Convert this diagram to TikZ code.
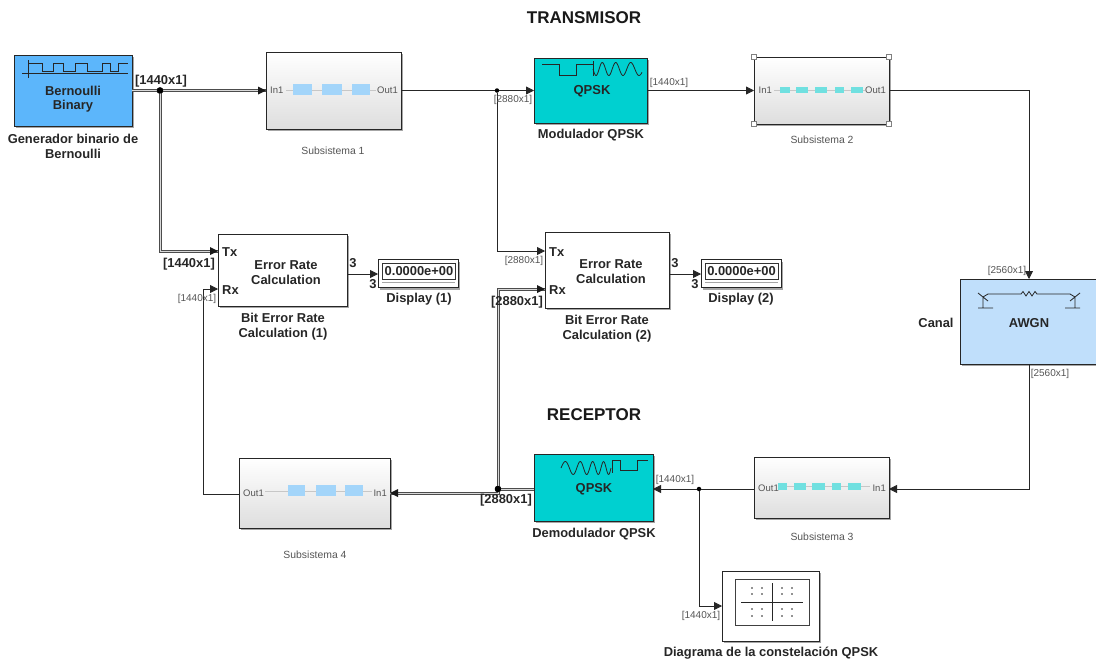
\documentclass[tikz,border=0pt]{standalone}
\usepackage{fontspec}
\setmainfont{Liberation Sans}
\usetikzlibrary{arrows.meta,shadows}
\definecolor{bernblue}{HTML}{5CB6FB}
\definecolor{modteal}{HTML}{00D0D0}
\definecolor{awgnblue}{HTML}{C0DFFB}
\definecolor{minblue}{HTML}{A3D5FA}
\definecolor{minteal}{HTML}{70E0E0}
\definecolor{txtgray}{HTML}{555555}
\tikzset{
  blk/.style={draw=black!85,line width=1pt,inner sep=0pt,outer sep=0pt,
     general shadow={shadow xshift=2pt,shadow yshift=-2pt,fill=black!35}},
  subsys/.style={blk,top color=white,middle color=white!97!black,bottom color=black!13},
  wire/.style={draw=black!85,line width=.8pt,-{Triangle[length=8pt,width=8pt]}},
  plainwire/.style={draw=black!85,line width=.8pt},
  bus/.style={draw=white!85!black,line width=.9pt,preaction={draw=black!70,line width=3pt}},
  junction/.style={circle,fill=black,inner sep=0pt,minimum size=6.5pt},
  smalljunction/.style={circle,fill=black,inner sep=0pt,minimum size=4.5pt},
  title/.style={font=\fontsize{17}{19}\bfseries\selectfont,text=black!90,yshift=-1pt},
  blabel/.style={font=\fontsize{12.9}{15}\bfseries\selectfont,text=black!85,align=center,yshift=-1pt},
  blktext/.style={font=\fontsize{12.9}{14.5}\bfseries\selectfont,text=black!85,align=center,yshift=-.7pt},
  sublabel/.style={font=\fontsize{10.4}{12}\selectfont,text=txtgray,yshift=-.7pt},
  dim/.style={font=\fontsize{10}{11}\selectfont,text=txtgray,inner sep=0pt,yshift=-1pt},
  bdim/.style={font=\fontsize{12.9}{14}\bfseries\selectfont,text=black!85,inner sep=0pt,yshift=-.7pt},
  port/.style={font=\fontsize{9.5}{11}\selectfont,text=txtgray,inner sep=0pt},
  bport/.style={font=\fontsize{12.9}{14}\bfseries\selectfont,text=black!85,inner sep=0pt},
  innerline/.style={draw=black!22,line width=.8pt},
  minb/.style={fill=minblue,draw=none},
  mint/.style={fill=minteal,draw=none},
  icon/.style={draw=black!85,line width=.8pt},
  handle/.style={draw=black!50,fill=white,line width=.6pt,minimum size=5pt,inner sep=0pt},
}
\begin{document}
\begin{tikzpicture}[x=1pt,y=-1pt]
\clip (0,0) rectangle (1096,659);
\fill[white] (0,0) rectangle (1096,659);

% blocks
\node[blk,fill=bernblue,minimum width=118pt,minimum height=71pt] (bern) at (73,90.5) {};
\node[subsys,minimum width=135pt,minimum height=77pt] (sub1) at (333.5,90.5) {};
\node[blk,fill=modteal,minimum width=113pt,minimum height=65pt] (mod) at (590.5,90.5) {};
\node[subsys,minimum width=135pt,minimum height=67pt] (sub2) at (821.5,90.5) {};
\node[blk,fill=white,minimum width=129pt,minimum height=72pt] (er1) at (282.5,270) {};
\node[blk,fill=white,minimum width=124pt,minimum height=76pt] (er2) at (607,270) {};
\node[blk,fill=white,minimum width=80pt,minimum height=28pt] (disp1) at (418,273.5) {};
\node[blk,fill=white,minimum width=80pt,minimum height=28pt] (disp2) at (741,273.5) {};
\node[blk,fill=awgnblue,minimum width=138pt,minimum height=85pt] (awgn) at (1029,321.5) {};
\node[subsys,minimum width=151pt,minimum height=70pt] (sub4) at (314.5,493) {};
\node[blk,fill=modteal,minimum width=119pt,minimum height=67pt] (dem) at (593.5,487.5) {};
\node[subsys,minimum width=135pt,minimum height=61pt] (sub3) at (821.5,487.5) {};
\node[blk,fill=white,minimum width=97pt,minimum height=70pt] (const) at (770.5,606) {};

% ports and junctions
\coordinate (ertx1) at (218,251);
\coordinate (errx1) at (218,289);
\coordinate (ertx2) at (545,251);
\coordinate (errx2) at (545,289);
\coordinate (s3in) at (889,489);
\coordinate (s3out) at (754,489);
\coordinate (demin) at (653,489);
\coordinate (demout) at (534,489);
\coordinate (s4in) at (390,493);
\coordinate (s4out) at (239,494);
\coordinate (cin) at (722,606);
\coordinate (d1in) at (378,274);
\coordinate (d2in) at (701,274);
\coordinate (er1out) at (347,274);
\coordinate (er2out) at (669,274);
\coordinate (rxcorner) at (203,289);
\node[junction] (j1) at (160,90.5) {};
\node[smalljunction] (j2) at (497,90.5) {};
\node[junction] (j3) at (498,489) {};
\node[smalljunction] (j4) at (699,489) {};

% connectors
\draw[bus] (bern.east) -- (j1.center);
\draw[bus] (j1.center) -- (sub1.west);
\draw[bus] (j1.center) |- (ertx1);
\draw[plainwire] (sub1.east) -- (j2);
\draw[wire] (j2) -- (mod.west);
\draw[wire] (j2) |- (ertx2);
\draw[wire] (mod.east) -- (sub2.west);
\draw[wire] (sub2.east) -| (awgn.north);
\draw[wire] (awgn.south) |- (s3in);
\draw[plainwire] (s3out) -- (j4);
\draw[wire] (j4) -- (demin);
\draw[wire] (j4) |- (cin);
\draw[bus] (demout) -- (j3.center);
\draw[bus] (j3.center) |- (s4in);
\draw[bus] (j3.center) |- (errx2);
\draw[wire] (s4out) -| (rxcorner) -- (errx1);
\draw[wire] (er1out) -- (d1in);
\draw[wire] (er2out) -- (d2in);
% arrowheads over the double lines
\fill[black!90] (sub1.west) -- ++(-8,-4) -- ++(0,8) -- cycle;
\fill[black!90] (ertx1) -- ++(-8,-4) -- ++(0,8) -- cycle;
\fill[black!90] (errx2) -- ++(-8,-4) -- ++(0,8) -- cycle;
\fill[black!90] (s4in) -- ++(8,-4) -- ++(0,8) -- cycle;
\fill[black] (j1.center) circle (3.2);
\fill[black] (j3.center) circle (3.2);

% Bernoulli icon
\draw[icon] (22,73.5) -- (128,73.5);
\draw[icon] (28,60) -- (28,78);
\draw[icon] (28,63) -- (42,63) -- (42,71) -- (53,71) -- (53,63) -- (63,63) -- (63,71) -- (75,71) -- (75,63) -- (87,63) -- (87,71) -- (102,71) -- (102,63) -- (110,63) -- (110,71) -- (118,71) -- (118,63) -- (128,63);
\node[blktext] (bernt) at (73,98.5) {Bernoulli\\Binary};

% QPSK modulator icon
\draw[icon] (542,64) -- (559,64) -- (559,75) -- (576,75) -- (576,64) -- (593,64);
\draw[icon] (593,61) -- (593,76);
\draw[icon,smooth] plot[domain=0:49,samples=90] ({593+\x},{69+6.5*sin(\x*30-\x*\x*0.1)});
\node[blktext,font=\fontsize{13}{15}\bfseries\selectfont] (modt) at (592,91) {QPSK};

% QPSK demodulator icon
\draw[icon,smooth] plot[domain=0:50,samples=90] ({561+\x},{468-6.5*sin(\x*20+\x*\x*0.176)});
\draw[icon] (612,460) -- (612,473);
\draw[icon] (612,460) -- (620,460) -- (620,470) -- (637,470) -- (637,460) -- (648,460);
\node[blktext] (demt) at (594,489) {QPSK};

% subsystem 1 interior
\draw[innerline] (286,90) -- (376,90);
\fill[minb] (293,84) rectangle (312,95);
\fill[minb] (322,84) rectangle (342,95);
\fill[minb] (352,84) rectangle (370,95);
\node[port,anchor=west] (s1i) at (270,90.5) {In1};
\node[port,anchor=east] (s1o) at (398,90.5) {Out1};

% subsystem 2 interior
\draw[innerline] (774,90) -- (865,90);
\foreach \a/\b in {780/790,796/808,815/827,835/844,851/863}{\fill[mint] (\a,87) rectangle (\b,93);}
\node[port,anchor=west] (s2i) at (758.5,90.5) {In1};
\node[port,anchor=east] (s2o) at (886,90.5) {Out1};
\node[handle] (h1) at (754,57) {};
\node[handle] (h2) at (889,57) {};
\node[handle] (h3) at (754,124) {};
\node[handle] (h4) at (889,124) {};

% subsystem 3 interior
\draw[innerline] (780,486.5) -- (870,486.5);
\foreach \a/\b in {778/787,794/806,812/825,832/841,848/861}{\fill[mint] (\a,483) rectangle (\b,490);}
\node[port,anchor=west] (s3o) at (758,488.5) {Out1};
\node[port,anchor=east] (s3i) at (886,488.5) {In1};

% subsystem 4 interior
\draw[innerline] (265,491) -- (372,491);
\fill[minb] (288,485) rectangle (305,496);
\fill[minb] (316,485) rectangle (336,496);
\fill[minb] (345,485) rectangle (363,496);
\node[port,anchor=west] (s4o) at (243,493.5) {Out1};
\node[port,anchor=east] (s4i) at (387,493.5) {In1};

% error rate blocks
\node[bport,anchor=west] (tx1) at (222,252) {Tx};
\node[bport,anchor=west] (rx1) at (222,290) {Rx};
\node[blktext] (ert1) at (286,272) {Error Rate\\Calculation};
\node[bport] (n1a) at (353,263) {3};
\node[bport] (n1b) at (373,284) {3};
\node[bport,anchor=west] (tx2) at (549,252) {Tx};
\node[bport,anchor=west] (rx2) at (549,290) {Rx};
\node[blktext] (ert2) at (611,271) {Error Rate\\Calculation};
\node[bport] (n2a) at (675,263) {3};
\node[bport] (n2b) at (695,284) {3};

% displays
\draw[draw=black!80,line width=.7pt] (382,263) rectangle (455,279);
\draw[draw=black!35,line width=.6pt] (382,282) -- (455,282);
\draw[draw=black!80,line width=.7pt] (705,263) rectangle (778,279);
\draw[draw=black!35,line width=.6pt] (705,282) -- (778,282);
\node[bport] (d1v) at (419,271.5) {0.0000e+00};
\node[bport] (d2v) at (741.5,271.5) {0.0000e+00};

% AWGN icon
\draw[icon] (988,294) -- (1021,294) -- (1023,291.5) -- (1026,296) -- (1029,291.5) -- (1032,296) -- (1035,291.5) -- (1037,294) -- (1070,294);
\draw[icon] (978,293) -- (988,301) (988,294) -- (983,297) (983,297) -- (983,308) (978,308) -- (993,308);
\draw[icon] (1080,293) -- (1070,301) (1070,294) -- (1075,297) (1075,297) -- (1075,308) (1065,308) -- (1080,308);
\node[blktext] (awgnt) at (1029,322) {AWGN};

% constellation
\draw[draw=black!75,line width=.9pt] (735,579) rectangle (809,625);
\draw[draw=black!85,line width=.8pt] (741,602) -- (803,602) (772,583) -- (772,621);
\foreach \px in {752,762,782,792}{\foreach \py in {588,594,609,616}{\fill[black!85] (\px,\py) circle (.9);}}

% labels
\node[title] (t1) at (584,17) {TRANSMISOR};
\node[title] (t2) at (594,414) {RECEPTOR};
\node[blabel] (l1) at (73,145.5) {Generador binario de\\Bernoulli};
\node[sublabel] (l2) at (333,150) {Subsistema 1};
\node[blabel] (l3) at (591,134) {Modulador QPSK};
\node[sublabel] (l4) at (822,139) {Subsistema 2};
\node[blabel] (l5) at (283,326) {Bit Error Rate\\Calculation (1)};
\node[blabel] (l6) at (419,298) {Display (1)};
\node[blabel] (l7) at (607,328) {Bit Error Rate\\Calculation (2)};
\node[blabel] (l8) at (741,298) {Display (2)};
\node[blabel] (l9) at (936,322) {Canal};
\node[blabel] (l10) at (594,533) {Demodulador QPSK};
\node[sublabel] (l11) at (315,554) {Subsistema 4};
\node[sublabel] (l12) at (822,536) {Subsistema 3};
\node[blabel] (l13) at (771,652) {Diagrama de la constelación QPSK};

% dimensions
\node[bdim] (x1) at (161,80) {[1440x1]};
\node[bdim] (x2) at (189,263) {[1440x1]};
\node[dim] (x3) at (197,298) {[1440x1]};
\node[dim] (x4) at (513,99) {[2880x1]};
\node[dim] (x5) at (669,82) {[1440x1]};
\node[dim] (x6) at (524,260) {[2880x1]};
\node[bdim] (x7) at (517,301) {[2880x1]};
\node[dim] (x8) at (1007,270) {[2560x1]};
\node[dim] (x9) at (1050,373) {[2560x1]};
\node[bdim] (x10) at (506,499) {[2880x1]};
\node[dim] (x11) at (675,479) {[1440x1]};
\node[dim] (x12) at (701,615) {[1440x1]};
\end{tikzpicture}
\end{document}
